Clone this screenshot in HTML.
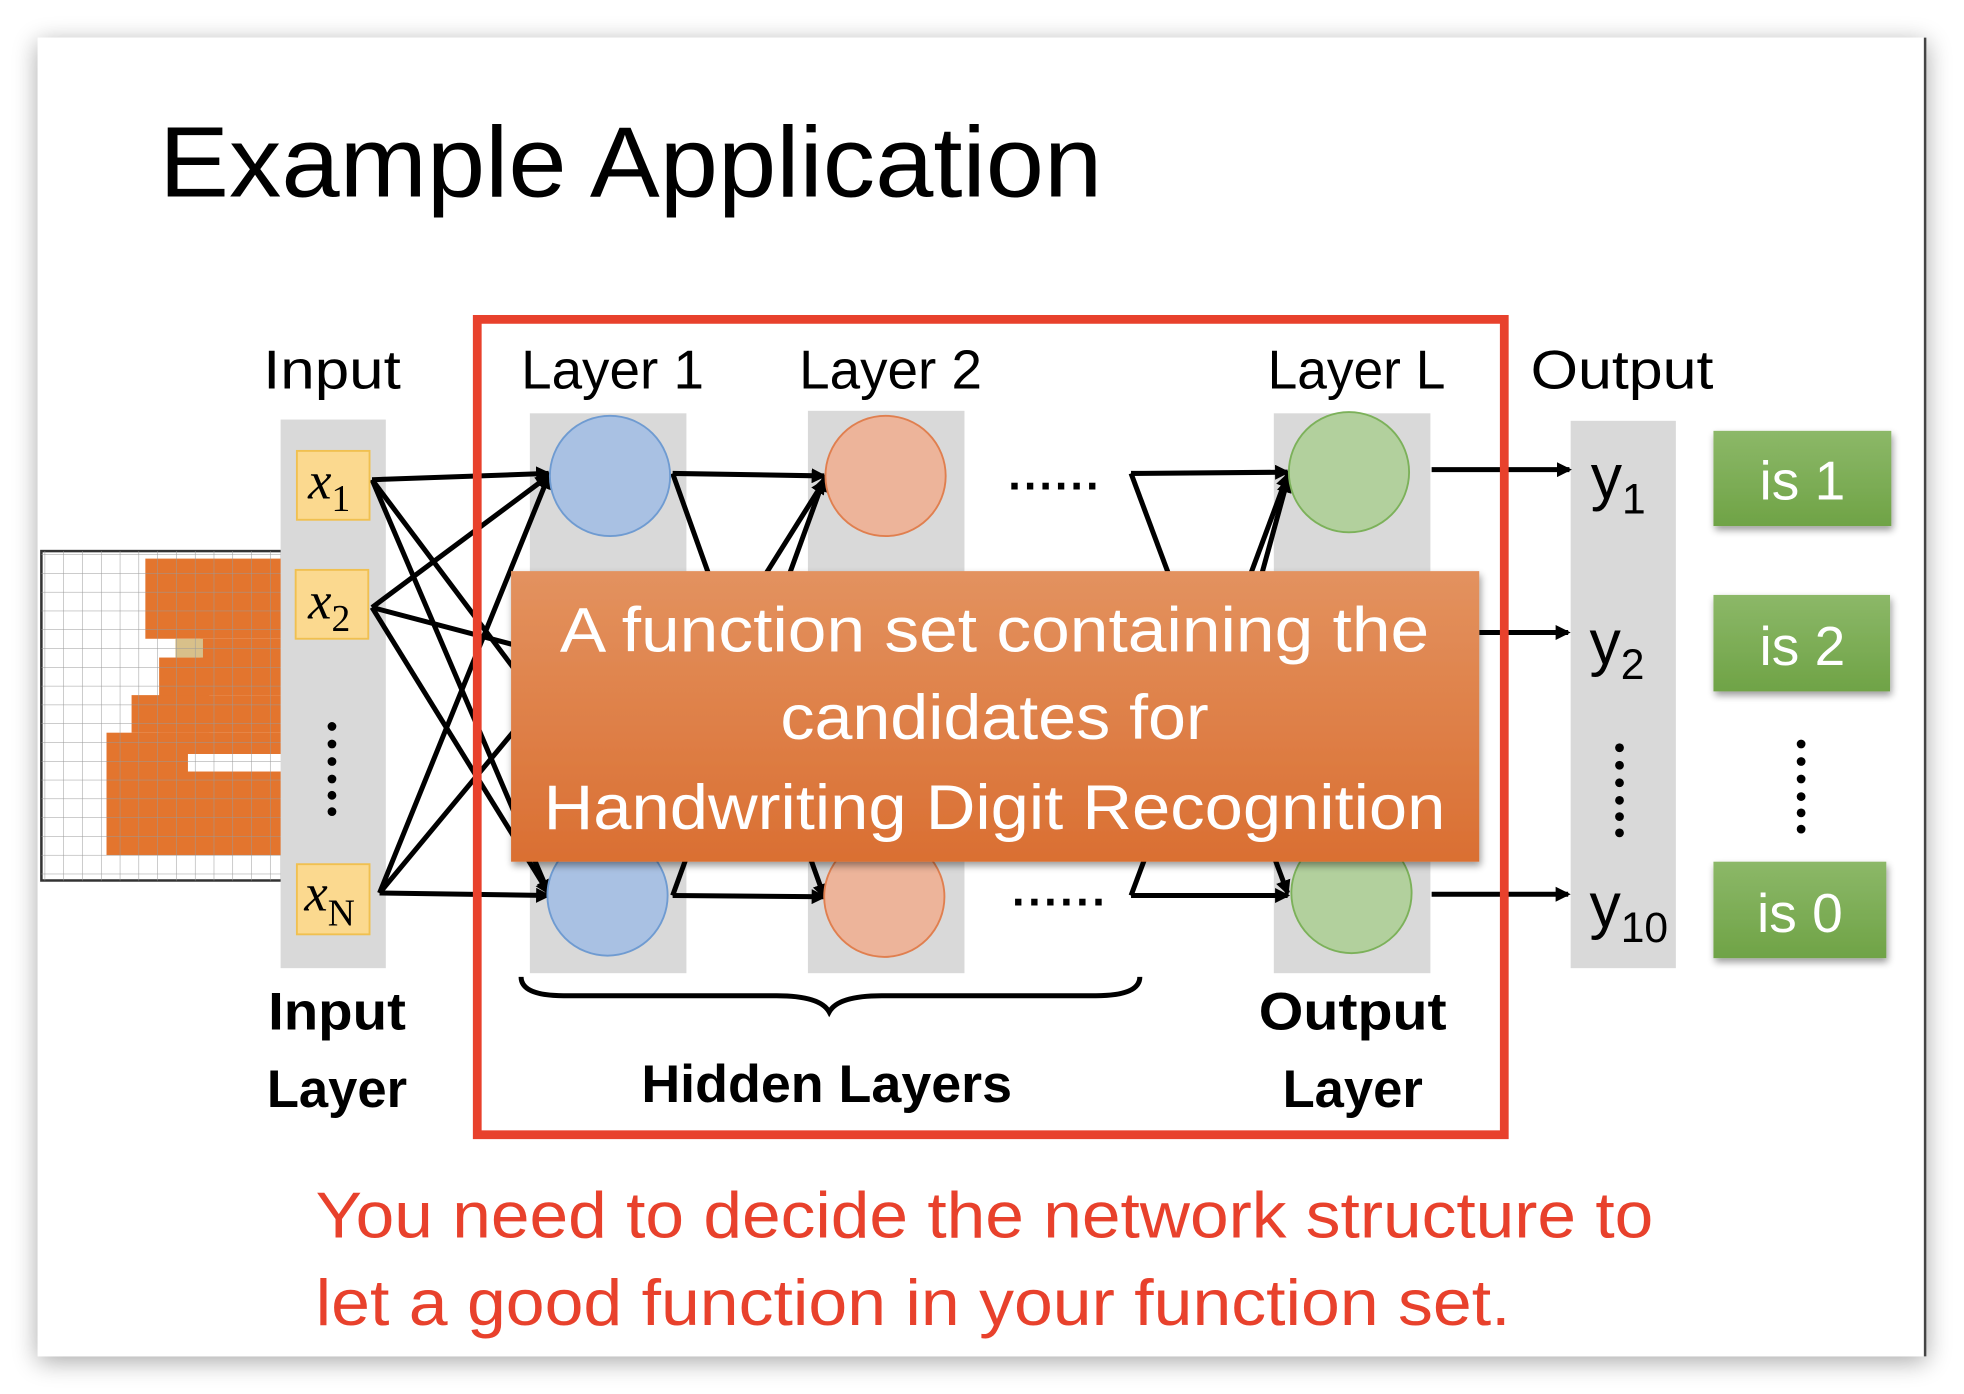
<!DOCTYPE html>
<html><head><meta charset="utf-8"><style>
html,body{margin:0;padding:0;background:#fff;width:1964px;height:1394px;overflow:hidden}
svg{display:block}
text{font-family:"Liberation Sans",sans-serif}
</style></head><body>
<svg width="1964" height="1394" viewBox="0 0 1568 1113" xmlns="http://www.w3.org/2000/svg">
<defs>
<filter id="sh" x="-5%" y="-5%" width="110%" height="115%"><feGaussianBlur in="SourceAlpha" stdDeviation="10"/><feOffset dy="4"/><feComponentTransfer><feFuncA type="linear" slope="0.35"/></feComponentTransfer><feMerge><feMergeNode/><feMergeNode in="SourceGraphic"/></feMerge></filter>
<filter id="sh2" x="-5%" y="-5%" width="110%" height="120%"><feGaussianBlur in="SourceAlpha" stdDeviation="3"/><feOffset dx="1" dy="3"/><feComponentTransfer><feFuncA type="linear" slope="0.4"/></feComponentTransfer><feMerge><feMergeNode/><feMergeNode in="SourceGraphic"/></feMerge></filter>
<linearGradient id="og" x1="0" y1="0" x2="0" y2="1"><stop offset="0" stop-color="#e3925f"/><stop offset="1" stop-color="#da6f32"/></linearGradient>
<linearGradient id="gg" x1="0" y1="0" x2="0" y2="1"><stop offset="0" stop-color="#8cb868"/><stop offset="1" stop-color="#6fa346"/></linearGradient>
<marker id="ah" markerWidth="12" markerHeight="12" refX="10" refY="6" orient="auto" markerUnits="userSpaceOnUse"><path d="M0,0 L12,6 L0,12 z" fill="#000"/></marker>
<pattern id="grid" width="15" height="15" patternUnits="userSpaceOnUse" x="36" y="443"><path d="M15 0 V15 M0 15 H15" stroke="#999" stroke-width="0.8" fill="none"/></pattern>
</defs>
<rect x="30" y="30" width="1508" height="1053" fill="#fff" filter="url(#sh)"/>
<line x1="1537" y1="30" x2="1537" y2="1083" stroke="#444" stroke-width="2"/>
<text x="127" y="157" font-size="80" textLength="753" lengthAdjust="spacingAndGlyphs">Example Application</text>

<rect x="33" y="440" width="192" height="263" fill="#fff" stroke="#333" stroke-width="2"/>
<g fill="#e3752e">
<rect x="116" y="446" width="109" height="64"/>
<rect x="160" y="510" width="65" height="45"/>
<rect x="127" y="525" width="40" height="60"/>
<rect x="105" y="555" width="120" height="30"/>
<rect x="85" y="585" width="140" height="98"/>
</g>
<rect x="150" y="602" width="75" height="14" fill="#fff"/>
<rect x="140" y="510" width="22" height="15" fill="#d8c08a"/>
<rect x="33" y="440" width="192" height="263" fill="url(#grid)"/>

<g fill="#d9d9d9">
<rect x="224" y="335" width="84" height="438"/>
<rect x="423" y="330" width="125" height="447"/>
<rect x="645" y="328" width="125" height="449"/>
<rect x="1017" y="330" width="125" height="447"/>
<rect x="1254" y="336" width="84" height="437"/>
</g>

<g stroke="#000" stroke-width="4" fill="none" marker-end="url(#ah)">
<line x1="297" y1="383" x2="438" y2="378"/>
<line x1="297" y1="383" x2="438" y2="713"/>
<line x1="297" y1="383" x2="430" y2="560"/>
<line x1="297" y1="485" x2="438" y2="380"/>
<line x1="297" y1="485" x2="438" y2="713"/>
<line x1="297" y1="485" x2="430" y2="520"/>
<line x1="303" y1="713" x2="438" y2="380"/>
<line x1="303" y1="713" x2="438" y2="715"/>
<line x1="303" y1="713" x2="430" y2="560"/>
<line x1="537" y1="378" x2="658" y2="380"/>
<line x1="537" y1="378" x2="658" y2="716"/>
<line x1="537" y1="715" x2="658" y2="382"/>
<line x1="537" y1="715" x2="658" y2="716"/>
<line x1="560" y1="540" x2="658" y2="384"/>
<line x1="903" y1="378" x2="1028" y2="377"/>
<line x1="903" y1="378" x2="1028" y2="713"/>
<line x1="903" y1="715" x2="1028" y2="379"/>
<line x1="903" y1="715" x2="1028" y2="715"/>
<line x1="985" y1="540" x2="1028" y2="383"/>
<line x1="1143" y1="375" x2="1253" y2="375"/>
<line x1="1181" y1="505" x2="1252" y2="505"/>
<line x1="1143" y1="714" x2="1252" y2="714"/>
</g>

<g stroke-width="1.5">
<circle cx="487" cy="380" r="48" fill="#a9c1e3" stroke="#6f9bd1"/>
<circle cx="485" cy="715" r="48" fill="#a9c1e3" stroke="#6f9bd1"/>
<circle cx="707" cy="380" r="48" fill="#edb49a" stroke="#e07f4f"/>
<circle cx="706" cy="716" r="48" fill="#edb49a" stroke="#e07f4f"/>
<circle cx="1077" cy="377" r="48" fill="#b2d09d" stroke="#7cb15a"/>
<circle cx="1079" cy="713" r="48" fill="#b2d09d" stroke="#7cb15a"/>
</g>

<g fill="#fbd98f" stroke="#f0c050" stroke-width="1.5">
<rect x="237" y="360" width="58" height="55"/>
<rect x="236" y="455" width="58" height="55"/>
<rect x="237" y="690" width="58" height="56"/>
</g>
<g font-style="italic" font-size="42">
<text x="246" y="398" style="font-family:'Liberation Serif',serif">x<tspan font-style="normal" font-size="30" dy="10">1</tspan></text>
<text x="246" y="494" style="font-family:'Liberation Serif',serif">x<tspan font-style="normal" font-size="30" dy="10">2</tspan></text>
<text x="243" y="727" style="font-family:'Liberation Serif',serif">x<tspan font-style="normal" font-size="30" dy="12">N</tspan></text>
</g>
<g fill="#000">
<circle cx="265" cy="580" r="3.5"/><circle cx="265" cy="594" r="3.5"/><circle cx="265" cy="608" r="3.5"/><circle cx="265" cy="622" r="3.5"/><circle cx="265" cy="635" r="3.5"/><circle cx="265" cy="648" r="3.5"/>
<circle cx="1293" cy="597" r="3.5"/><circle cx="1293" cy="611" r="3.5"/><circle cx="1293" cy="625" r="3.5"/><circle cx="1293" cy="639" r="3.5"/><circle cx="1293" cy="652" r="3.5"/><circle cx="1293" cy="665" r="3.5"/>
<circle cx="1438" cy="594" r="3.5"/><circle cx="1438" cy="608" r="3.5"/><circle cx="1438" cy="622" r="3.5"/><circle cx="1438" cy="636" r="3.5"/><circle cx="1438" cy="649" r="3.5"/><circle cx="1438" cy="662" r="3.5"/>
</g>
<text x="805" y="391" font-size="36" font-weight="bold" textLength="72" lengthAdjust="spacing">......</text>
<text x="808" y="723" font-size="36" font-weight="bold" textLength="74" lengthAdjust="spacing">......</text>

<g font-size="44">
<text x="210" y="310" textLength="110" lengthAdjust="spacingAndGlyphs">Input</text>
<text x="416" y="310" textLength="146" lengthAdjust="spacingAndGlyphs">Layer 1</text>
<text x="638" y="310" textLength="146" lengthAdjust="spacingAndGlyphs">Layer 2</text>
<text x="1012" y="310" textLength="142" lengthAdjust="spacingAndGlyphs">Layer L</text>
<text x="1222" y="310" textLength="146" lengthAdjust="spacingAndGlyphs">Output</text>
</g>
<g font-size="50">
<text x="1270" y="398">y<tspan font-size="34" dy="12">1</tspan></text>
<text x="1269" y="530">y<tspan font-size="34" dy="12">2</tspan></text>
<text x="1269" y="740">y<tspan font-size="34" dy="12">10</tspan></text>
</g>
<g filter="url(#sh2)">
<rect x="1368" y="344" width="142" height="76" fill="url(#gg)"/>
<rect x="1368" y="475" width="141" height="77" fill="url(#gg)"/>
<rect x="1368" y="688" width="138" height="77" fill="url(#gg)"/>
</g>
<g font-size="44" fill="#fff" text-anchor="middle">
<text x="1439" y="399">is 1</text>
<text x="1439" y="531">is 2</text>
<text x="1437" y="744">is 0</text>
</g>

<rect x="381" y="255" width="820" height="651" fill="none" stroke="#e8412c" stroke-width="7"/>

<rect x="408" y="456" width="773" height="232" fill="url(#og)" filter="url(#sh2)"/>
<g fill="#fff" font-size="50" text-anchor="middle">
<text x="794" y="520" textLength="694" lengthAdjust="spacingAndGlyphs">A function set containing the</text>
<text x="794" y="590" textLength="342" lengthAdjust="spacingAndGlyphs">candidates for</text>
<text x="794" y="662" textLength="720" lengthAdjust="spacingAndGlyphs">Handwriting Digit Recognition</text>
</g>

<path d="M416,780 Q416,795 450,795 L620,795 Q655,795 662,808 Q669,795 704,795 L875,795 Q910,795 910,780" fill="none" stroke="#000" stroke-width="4"/>
<g font-size="42" font-weight="bold" text-anchor="middle">
<text x="269" y="822" textLength="110" lengthAdjust="spacingAndGlyphs">Input</text>
<text x="269" y="884" textLength="112" lengthAdjust="spacingAndGlyphs">Layer</text>
<text x="660" y="880" textLength="296" lengthAdjust="spacingAndGlyphs">Hidden Layers</text>
<text x="1080" y="822" textLength="150" lengthAdjust="spacingAndGlyphs">Output</text>
<text x="1080" y="884" textLength="112" lengthAdjust="spacingAndGlyphs">Layer</text>
</g>
<g fill="#e8412c" font-size="52">
<text x="252" y="988" textLength="1068" lengthAdjust="spacingAndGlyphs">You need to decide the network structure to</text>
<text x="252" y="1058" textLength="954" lengthAdjust="spacingAndGlyphs">let a good function in your function set.</text>
</g>
</svg>
</body></html>
